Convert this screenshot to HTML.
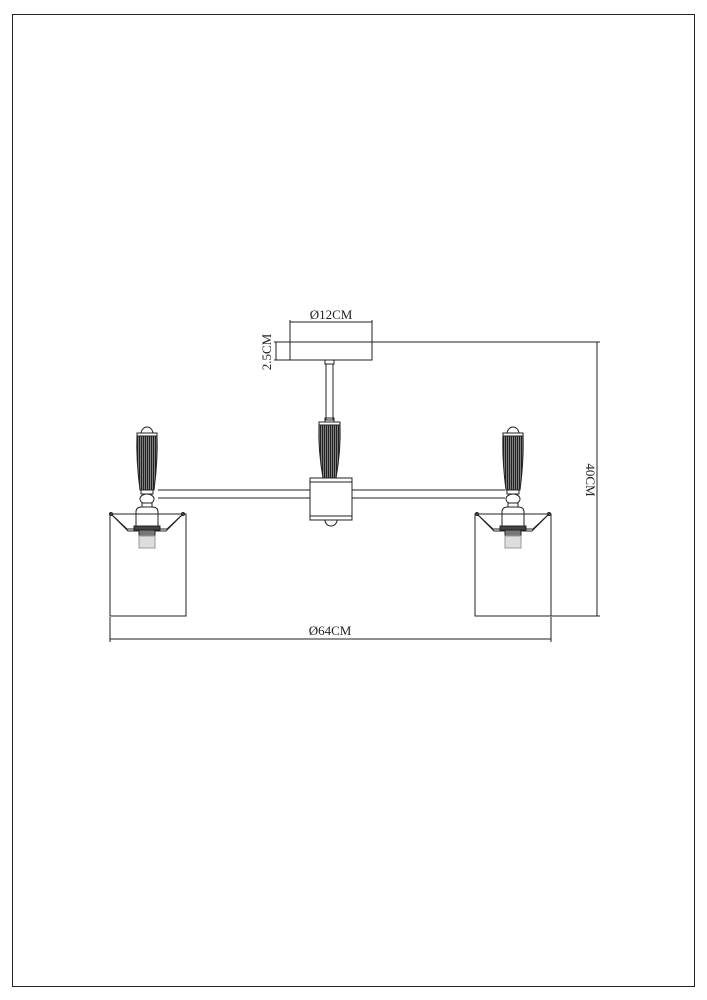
<!DOCTYPE html>
<html><head><style>body{margin:0;background:#fff}svg{display:block}</style></head><body>
<svg width="707" height="1000" viewBox="0 0 707 1000" xmlns="http://www.w3.org/2000/svg" font-family="Liberation Serif, serif">
<defs>
<pattern id="ribs" width="2" height="4" patternUnits="userSpaceOnUse"><rect width="2" height="4" fill="#888"/><rect width="1.1" height="4" fill="#222"/></pattern>
<g id="lamp" fill="none" stroke="#222" stroke-width="1">
<path d="M-6,434 A6,7 0 0 1 6,434"/>
<path d="M-10,434 L10,434 Q11,460 7,490 L-7,490 Q-11,460 -10,434 Z" fill="url(#ribs)"/>
<rect x="-10" y="433" width="20" height="3" fill="#fff"/>
<rect x="-6" y="490" width="12" height="4" fill="#fff"/>
<ellipse cx="0" cy="499" rx="7" ry="5" fill="#fff"/>
<rect x="-5" y="503" width="10" height="4" fill="#fff"/>
<path d="M-11,526 L-11,512 Q-11,507 -5,507 L5,507 Q11,507 11,512 L11,526"/>
<path d="M-35,515 L-19,531 L19,531 L35,515 M-37,513 L-20,529 L20,529 L37,513"/>
<circle cx="-36" cy="514" r="1.5"/><circle cx="36" cy="514" r="1.5"/>
<rect x="-13" y="526" width="26" height="4" fill="#444"/>
<rect x="-8" y="530" width="16" height="6" fill="#777"/>
<rect x="-8" y="536" width="16" height="12" fill="#ddd" stroke="#999"/>
</g>
</defs>
<rect x="12.5" y="14.5" width="682" height="972" fill="none" stroke="#222" stroke-width="1"/>
<g fill="none" stroke="#222" stroke-width="1">
<rect x="290" y="342" width="82" height="18"/>
<line x1="290" y1="322" x2="372" y2="322"/>
<line x1="290" y1="320" x2="290" y2="342"/><line x1="372" y1="320" x2="372" y2="342"/>
<line x1="372" y1="342" x2="600" y2="342"/>
<line x1="274" y1="342" x2="290" y2="342"/><line x1="274" y1="360" x2="290" y2="360"/>
<line x1="276" y1="342" x2="276" y2="360"/>
<line x1="597" y1="342" x2="597" y2="616"/>
<line x1="551" y1="616" x2="600" y2="616"/>
<line x1="110" y1="617" x2="110" y2="642"/><line x1="551" y1="617" x2="551" y2="642"/>
<line x1="110" y1="639" x2="551" y2="639"/>
<rect x="325" y="360" width="9" height="4"/>
<rect x="326" y="364" width="7" height="56"/>
<rect x="325" y="418" width="9" height="4"/>
<path d="M319,424 L340,424 Q341,450 336,478 L323,478 Q318,450 319,424 Z" fill="url(#ribs)"/>
<rect x="319" y="422" width="21" height="3" fill="#fff"/>
<line x1="158" y1="490" x2="310" y2="490"/><line x1="158" y1="498" x2="310" y2="498"/>
<line x1="352" y1="490" x2="505" y2="490"/><line x1="352" y1="498" x2="505" y2="498"/>
<rect x="310" y="478" width="42" height="42" fill="#fff"/>
<line x1="310" y1="482" x2="352" y2="482"/><line x1="310" y1="516" x2="352" y2="516"/>
<path d="M325,520 A6,6 0 0 0 337,520"/>
<rect x="110" y="514" width="76" height="102"/>
<rect x="475" y="514" width="76" height="102"/>
</g>
<use href="#lamp" transform="translate(147,0)"/>
<use href="#lamp" transform="translate(513,0)"/>
<g font-size="13" fill="#222">
<text x="331" y="319" text-anchor="middle">Ø12CM</text>
<text x="330" y="635" text-anchor="middle">Ø64CM</text>
<text transform="translate(271,352) rotate(-90)" text-anchor="middle">2.5CM</text>
<text transform="translate(586,480) rotate(90)" text-anchor="middle">40CM</text>
</g>
</svg>
</body></html>
